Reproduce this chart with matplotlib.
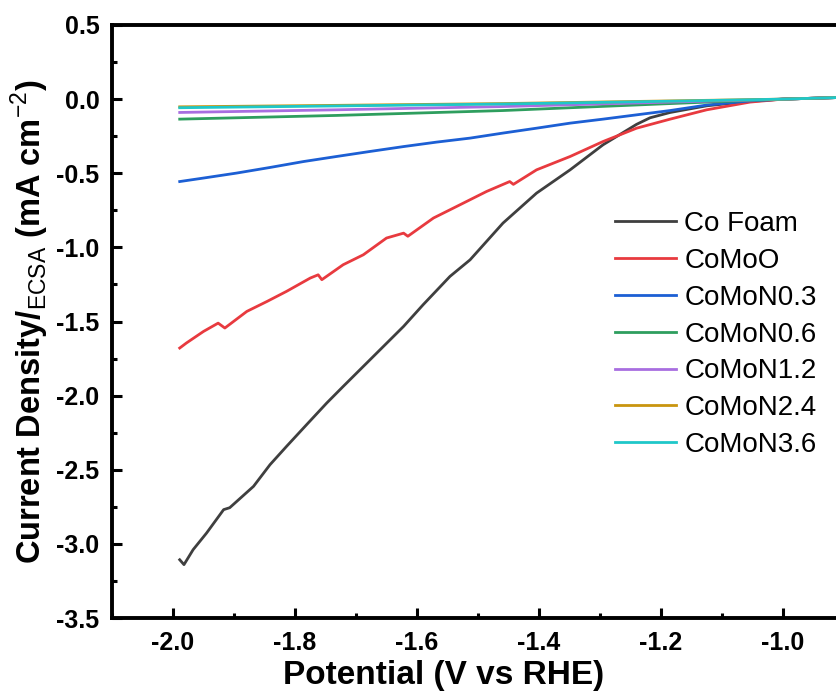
import matplotlib
matplotlib.use("Agg")
import matplotlib.pyplot as plt
from matplotlib.ticker import MultipleLocator, FormatStrFormatter

###############################################################################
#Data
###############################################################################
labels = ["Co Foam", "CoMoO", "CoMoN0.3", "CoMoN0.6", "CoMoN1.2", "CoMoN2.4", "CoMoN3.6"]
colours = ["#3f3f3f", "#e83a3f", "#1c5fd4", "#2e9e5e", "#a86ee0", "#c9950e", "#1fc7c9"]

#Co Foam
x_cofoam = [-1.989, -1.982, -1.967, -1.945, -1.917, -1.907, -1.868, -1.841, -1.814,
            -1.781, -1.748, -1.721, -1.688, -1.655, -1.622, -1.590, -1.546, -1.513,
            -1.459, -1.404, -1.349, -1.295, -1.240, -1.218, -1.185, -1.125, -1.054,
            -1.000, -0.900]
y_cofoam = [-3.107, -3.140, -3.039, -2.927, -2.769, -2.756, -2.612, -2.466, -2.343,
            -2.196, -2.050, -1.938, -1.803, -1.668, -1.533, -1.387, -1.196, -1.084,
            -0.836, -0.634, -0.477, -0.308, -0.170, -0.126, -0.090, -0.045, -0.015,
            0.000, 0.012]

#CoMoO
x_comoo = [-1.989, -1.978, -1.950, -1.926, -1.915, -1.879, -1.846, -1.814, -1.775,
           -1.762, -1.756, -1.721, -1.688, -1.650, -1.622, -1.615, -1.573, -1.535,
           -1.486, -1.448, -1.442, -1.404, -1.349, -1.295, -1.240, -1.185, -1.125,
           -1.054, -1.000, -0.900]
y_comoo = [-1.679, -1.645, -1.567, -1.511, -1.544, -1.432, -1.365, -1.297, -1.207,
           -1.185, -1.218, -1.117, -1.050, -0.937, -0.904, -0.925, -0.802, -0.724,
           -0.623, -0.556, -0.575, -0.477, -0.387, -0.286, -0.196, -0.135, -0.072,
           -0.020, 0.000, 0.012]

#CoMoN0.3
x_n03 = [-1.989, -1.951, -1.896, -1.841, -1.786, -1.732, -1.677, -1.622, -1.568,
         -1.513, -1.459, -1.404, -1.349, -1.295, -1.240, -1.185, -1.125, -1.054,
         -1.000, -0.900]
y_n03 = [-0.556, -0.533, -0.499, -0.461, -0.421, -0.387, -0.353, -0.320, -0.290,
         -0.263, -0.229, -0.196, -0.162, -0.135, -0.106, -0.077, -0.040, -0.012,
         0.000, 0.012]

#CoMoN0.6, CoMoN1.2, CoMoN2.4, CoMoN3.6
x_flat = [-1.989, -1.732, -1.459, -1.185, -1.000, -0.900]
y_n06 = [-0.135, -0.110, -0.077, -0.030, 0.000, 0.012]
y_n12 = [-0.090, -0.072, -0.050, -0.020, 0.000, 0.012]
y_n24 = [-0.052, -0.042, -0.030, -0.012, 0.000, 0.012]
y_n36 = [-0.058, -0.046, -0.033, -0.014, 0.000, 0.012]

xs = [x_cofoam, x_comoo, x_n03, x_flat, x_flat, x_flat, x_flat]
ys = [y_cofoam, y_comoo, y_n03, y_n06, y_n12, y_n24, y_n36]

###############################################################################
#Plot
###############################################################################
plt.rcParams['font.family'] = "Liberation Sans"
plt.rcParams['mathtext.fontset'] = "custom"
plt.rcParams['mathtext.rm'] = "Liberation Sans"
plt.rcParams['mathtext.bf'] = "Liberation Sans:bold"

fig = plt.figure(figsize = (8.37, 6.95), dpi = 100)
ax = fig.add_axes([112/837, 77/695, 732/837, 593/695])

for x, y, c, lab in zip(xs, ys, colours, labels):
    ax.plot(x, y, color = c, linewidth = 2, label = lab)

#Limits
ax.set_xlim(-2.1, -0.9)
ax.set_ylim(-3.5, 0.5)

#Ticks
ax.xaxis.set_major_locator(MultipleLocator(0.2))
ax.xaxis.set_minor_locator(MultipleLocator(0.1))
ax.yaxis.set_major_locator(MultipleLocator(0.5))
ax.yaxis.set_minor_locator(MultipleLocator(0.25))
ax.xaxis.set_major_formatter(FormatStrFormatter("%.1f"))
ax.yaxis.set_major_formatter(FormatStrFormatter("%.1f"))
ax.tick_params(which = "both", direction = "in", top = False, right = False)
ax.tick_params(which = "major", length = 7, width = 2.2, labelsize = 18, pad = 9)
ax.tick_params(which = "minor", length = 3.6, width = 2.2)
for lab in ax.get_xticklabels() + ax.get_yticklabels():
    lab.set_fontweight("bold")

for s in ax.spines.values():
    s.set_linewidth(2.8)

#Axis labels
ax.set_xlabel("Potential (V vs RHE)", fontsize = 24, fontweight = "bold")
ax.xaxis.set_label_coords(0.4536, -0.071)
ax.set_ylabel("Current Density/$_{\\mathrm{ECSA}}$ (mA cm$^{\\mathrm{-2}}$)",
              fontsize = 23.5, fontweight = "bold")
ax.yaxis.set_label_coords(-0.083, 0.5)

#Legend
ax.legend(loc = "upper left", bbox_to_anchor = (615/837, 1 - 211/695),
          bbox_transform = fig.transFigure, frameon = False, fontsize = 20,
          handlelength = 2.2, handletextpad = 0.3, labelspacing = 0.39,
          borderpad = 0, borderaxespad = 0)

fig.savefig("out.png", dpi = 100)
